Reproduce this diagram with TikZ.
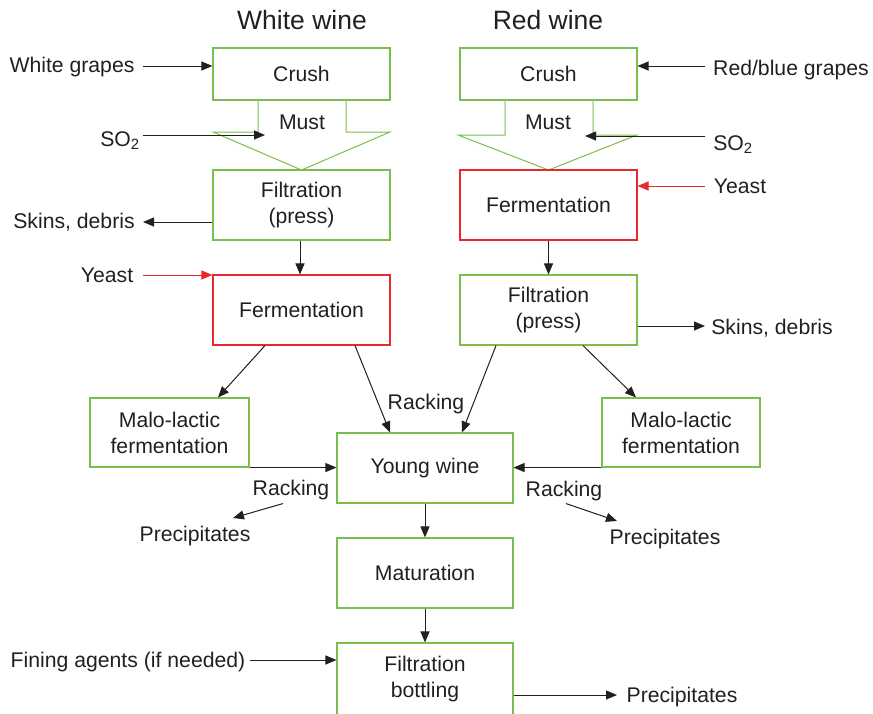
\documentclass[tikz,border=0pt]{standalone}
\usepackage{fontspec}
\setmainfont{Liberation Sans}
\usetikzlibrary{arrows.meta}
\definecolor{boxgreen}{RGB}{122,190,80}
\definecolor{boxred}{RGB}{232,40,44}
\definecolor{ink}{RGB}{35,31,32}
\tikzset{
  every node/.style={font=\fontsize{21.2}{26}\selectfont, text=ink},
  gbox/.style={draw=boxgreen, line width=1.1pt, minimum width=177pt, minimum height=70pt, align=center, inner sep=0pt},
  rbox/.style={gbox, draw=boxred},
  lbl/.style={inner sep=1pt, align=center, yshift=-1.5pt},
  ttl/.style={font=\fontsize{26.5}{30}\selectfont},
  arr/.style={draw=ink, line width=1pt, -{Triangle[length=11pt,width=9pt]}},
  rarr/.style={arr, draw=boxred},
  mustshape/.style={draw=boxgreen, line width=1pt, line join=miter}
}
\begin{document}
\begin{tikzpicture}[x=1pt,y=-1pt]
\useasboundingbox (0,0) rectangle (873,713);
\clip (0,0) rectangle (873,713);
% titles
\node[ttl] (tW) at (302,20) {White wine};
\node[ttl] (tR) at (548,20) {Red wine};
% white column boxes
\node[gbox, minimum height=52pt] (crushW) at (301.5,74) {Crush};
\draw[mustshape] (258,100) -- (258,132) -- (213,132) -- (301.5,170) -- (390,132) -- (346,132) -- (346,100);
\node[lbl] (mustW) at (302,121) {Must};
\node[gbox] (filtW) at (301.5,205) {Filtration\\(press)};
\node[rbox] (fermW) at (301.5,310) {Fermentation};
\node[gbox, minimum width=159pt, minimum height=69pt] (maloW) at (169.5,432.5) {Malo-lactic\\fermentation};
% red column boxes
\node[gbox, minimum height=52pt] (crushR) at (548.5,74) {Crush};
\draw[mustshape] (505,100) -- (505,135) -- (458,135) -- (548.5,170) -- (637,135) -- (593,135) -- (593,100);
\node[lbl] (mustR) at (548,121) {Must};
\node[rbox] (fermR) at (548.5,205) {Fermentation};
\node[gbox] (filtR) at (548.5,310) {Filtration\\(press)};
\node[gbox, minimum width=158pt, minimum height=69pt] (maloR) at (681,432.5) {Malo-lactic\\fermentation};
% centre column
\node[gbox, minimum width=176pt] (young) at (425,468) {Young wine};
\node[gbox, minimum width=176pt] (matur) at (425,573) {Maturation};
\node[gbox, minimum width=176pt, minimum height=100pt] (bottl) at (425,693) {};
\node[lbl] (bottlT) at (425,678) {Filtration\\bottling};
% side labels
\node[lbl] (wg) at (72,66) {White grapes};
\node[lbl] (so2W) at (120,139) {SO\textsubscript{2}};
\node[lbl] (skW) at (74,221) {Skins, debris};
\node[lbl] (yW) at (107,274) {Yeast};
\node[lbl] (rbg) at (791,69) {Red/blue grapes};
\node[lbl] (so2R) at (733,143) {SO\textsubscript{2}};
\node[lbl] (yR) at (740,185) {Yeast};
\node[lbl] (skR) at (772,327) {Skins, debris};
\node[lbl] (rackC) at (426,403) {Racking};
\node[lbl] (rackL) at (291,489) {Racking};
\node[lbl] (rackR) at (564,490) {Racking};
\node[lbl] (precL) at (195,535) {Precipitates};
\node[lbl] (precR) at (665,538) {Precipitates};
\node[lbl] (precB) at (682,696) {Precipitates};
\node[lbl] (fin) at (128,661) {Fining agents (if needed)};
% connector end coordinates
\coordinate (wgA) at (143,66);
\coordinate (so2WA) at (143,135);
\coordinate (so2WB) at (265,135);
\coordinate (skWA) at (143,222);
\coordinate (yWA) at (143,275);
\coordinate (rbgA) at (705,66);
\coordinate (so2RA) at (705,136);
\coordinate (so2RB) at (585,136);
\coordinate (yRA) at (705,186);
\coordinate (skRA) at (705,326);
\coordinate (finA) at (250,660);
\coordinate (precBA) at (617,695);
\coordinate (precLA) at (233,518);
\coordinate (precRA) at (617,521);
% connectors
\draw[arr] (wgA) -- (wgA -| crushW.west);
\draw[arr] (so2WA) -- (so2WB);
\draw[arr] (skWA -| filtW.west) -- (skWA);
\draw[rarr] (yWA) -- (yWA -| fermW.west);
\draw[arr] (filtW.south -| 300,0) -- (fermW.north -| 300,0);
\draw[arr] (fermW.south -| 265,0) -- (maloW.north -| 218,0);
\draw[arr] (fermW.south -| 355,0) -- (young.north -| 390,0);
\draw[arr] (filtR.south -| 496,0) -- (young.north -| 462,0);
\draw[arr] (filtR.south -| 583,0) -- (maloR.north -| 636,0);
\draw[arr] (maloW.south east) -- (maloW.south east -| young.west);
\draw[arr] (maloR.south west) -- (maloR.south west -| young.east);
\draw[arr] (young.south -| 283,0) -- (precLA);
\draw[arr] (young.south -| 566,0) -- (precRA);
\draw[arr] (young.south) -- (matur.north);
\draw[arr] (matur.south) -- (bottl.north);
\draw[arr] (finA) -- (finA -| bottl.west);
\draw[arr] (precBA -| bottl.east) -- (precBA);
\draw[arr] (rbgA) -- (rbgA -| crushR.east);
\draw[arr] (so2RA) -- (so2RB);
\draw[rarr] (yRA) -- (yRA -| fermR.east);
\draw[arr] (fermR.south) -- (filtR.north);
\draw[arr] (skRA -| filtR.east) -- (skRA);
\end{tikzpicture}
\end{document}
